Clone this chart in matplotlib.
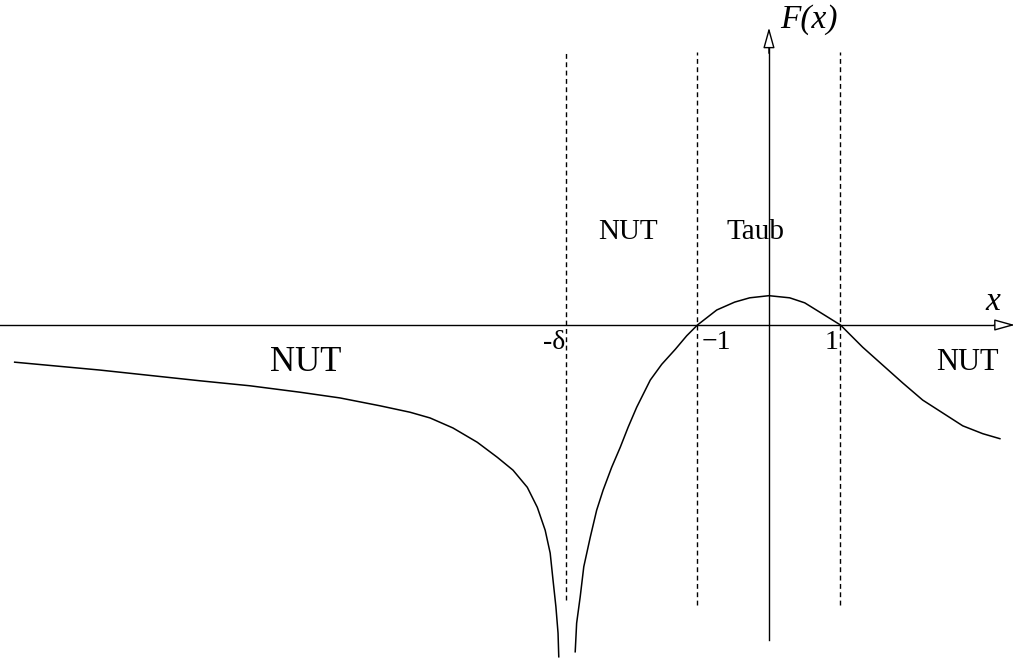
import matplotlib
matplotlib.use("Agg")
import matplotlib.pyplot as plt

# ---- data (x in units where the roots of F are at -1 and 1) ----
left_x = [-10.55, -9.36, -7.96, -7.26, -6.56, -6.00, -5.44, -5.02, -4.74, -4.42, -4.08,
          -3.80, -3.58, -3.38, -3.24, -3.13, -3.06, -3.02, -2.98, -2.95, -2.94]
left_y = [-0.52, -0.63, -0.78, -0.85, -0.94, -1.02, -1.13, -1.22, -1.30, -1.44, -1.64,
          -1.85, -2.03, -2.27, -2.55, -2.87, -3.19, -3.57, -3.94, -4.31, -4.64]

right_x = [-2.71, -2.69, -2.64, -2.59, -2.50, -2.41, -2.32, -2.20, -2.08, -1.97, -1.85,
           -1.66, -1.50, -1.31, -1.15, -1.00, -0.73, -0.48, -0.27, 0.00, 0.29, 0.50,
           0.71, 1.00, 1.31, 1.59, 1.87, 2.15, 2.43, 2.71, 2.99, 3.23]
right_y = [-4.57, -4.17, -3.80, -3.38, -2.97, -2.59, -2.31, -1.99, -1.71, -1.43, -1.15,
           -0.77, -0.55, -0.34, -0.15, 0.00, 0.21, 0.32, 0.38, 0.41, 0.38, 0.31,
           0.18, 0.00, -0.31, -0.56, -0.81, -1.05, -1.23, -1.41, -1.52, -1.59]

delta = 2.84
boundaries = [-delta, -1.0, 1.0]
boundary_bottoms = [-3.85, -3.92, -3.92]

region_labels = ["NUT", "Taub", "NUT", "NUT"]
region_x = [-1.97, -0.19, -6.48, 2.77]
region_y = [1.30, 1.30, -0.52, -0.52]
region_size = [21, 21, 25, 22]

tick_labels = ["-δ", "\u22121", "1"]
tick_x = [-3.01, -0.74, 0.88]
tick_y = [-0.24, -0.25, -0.25]

serif = ["Liberation Serif", "DejaVu Serif"]

fig = plt.figure(figsize=(10.18, 6.58), dpi=100)
ax = fig.add_axes([0, 0, 1, 1])
ax.set_xlim(-10.755, 3.483)
ax.set_ylim(-4.657, 4.545)
ax.axis("off")

# axes lines
ax.plot([-10.755, 3.30], [0, 0], color="black", lw=1.0)
ax.plot([0, 0], [-4.41, 4.0], color="black", lw=1.0)
arrow_style = dict(arrowstyle="-|>,head_length=0.9,head_width=0.25",
                   fc="white", ec="black", lw=1.0, shrinkA=0, shrinkB=0,
                   mutation_scale=14)
ax.annotate("", xy=(3.44, 0), xytext=(3.15, 0), arrowprops=arrow_style)
ax.annotate("", xy=(0, 4.16), xytext=(0, 3.80), arrowprops=arrow_style)

# dashed boundaries
for bx, bb in zip(boundaries, boundary_bottoms):
    ax.plot([bx, bx], [bb, 3.82], color="black", lw=1.0, linestyle=(0, (3.5, 2.5)))

# curve
ax.plot(left_x, left_y, color="black", lw=1.1, solid_joinstyle="round")
ax.plot(right_x, right_y, color="black", lw=1.1, solid_joinstyle="round")

# labels
for t, x, y, s in zip(region_labels, region_x, region_y, region_size):
    ax.text(x, y, t, family=serif, fontsize=s, ha="center", va="center")
for t, x, y in zip(tick_labels, tick_x, tick_y):
    ax.text(x, y, t, family=serif, fontsize=20, ha="center", va="center")

ax.text(0.16, 4.27, "F(x)", family=serif, style="italic", fontsize=24, ha="left", va="center")
ax.text(3.13, 0.32, "x", family=serif, style="italic", fontsize=24, ha="center", va="center")

fig.savefig("out.png", dpi=100)
